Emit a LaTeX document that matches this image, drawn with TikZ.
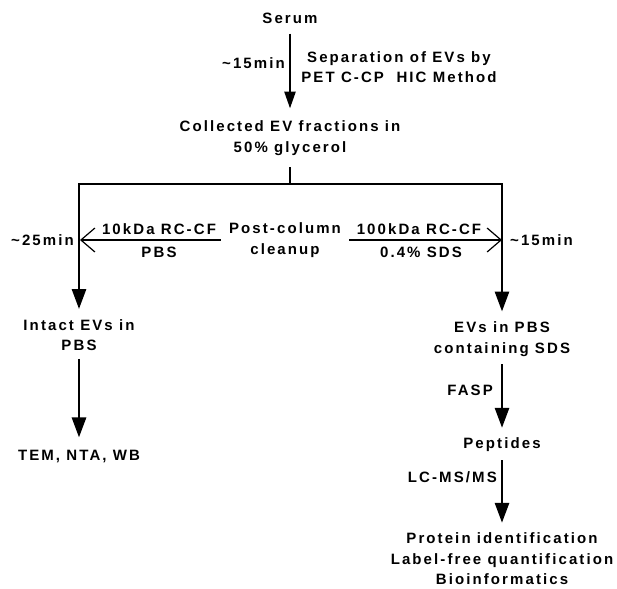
\documentclass[tikz,border=0pt]{standalone}
\usepackage{fontspec}
\newfontfamily\lab{Liberation Sans}[LetterSpace=14]
\usetikzlibrary{arrows.meta}
\tikzset{
  lbl/.style={font=\lab\bfseries\fontsize{15}{20.5}\selectfont, align=center, inner sep=0pt},
  thk/.style={line width=2.8pt},
  varrow/.style={line width=2.8pt, -{Triangle[length=20pt,width=14pt]}},
  sarrow/.style={line width=2.6pt, -{Triangle[length=17pt,width=11pt]}},
  harrow/.style={line width=1.2pt, -{Straight Barb[length=14pt,width=24pt,line width=1.2pt]}}
}
\begin{document}
\begin{tikzpicture}[x=1pt,y=-1pt]
\path[use as bounding box] (0,0) rectangle (617,588);
% nodes
\node[lbl] (serum) at (290,18) {Serum};
\node[lbl, anchor=east] (m15a) at (285,63) {\textasciitilde15min};
\node[lbl] (sep) at (399,67) {Separation of EVs by\\PET C-CP\ \ HIC Method};
\node[lbl] (coll) at (290,138) {Collected EV fractions in\\50\% glycerol};
\coordinate (br) at (290,184);
\coordinate (lv) at (80,240);
\coordinate (rv) at (502,240);
\node[lbl] (post) at (285,240) {Post-column\\cleanup};
\node[lbl] (l10) at (159,229) {10kDa RC-CF};
\node[lbl] (lpbs) at (159,252) {PBS};
\node[lbl] (r100) at (419,229) {100kDa RC-CF};
\node[lbl] (rsds) at (421,252) {0.4\% SDS};
\node[lbl, anchor=east] (m25) at (74,240) {\textasciitilde25min};
\node[lbl, anchor=west] (m15b) at (510,240) {\textasciitilde15min};
\node[lbl] (intact) at (79,335) {Intact EVs in\\PBS};
\node[lbl] (tem) at (79,456) {TEM, NTA, WB};
\node[lbl] (evs) at (502,339) {EVs in PBS\\containing SDS};
\node[lbl, anchor=east] (fasp) at (493,390) {FASP};
\node[lbl] (pep) at (502,445) {Peptides};
\node[lbl, anchor=east] (lcms) at (497,477) {LC-MS/MS};
\node[lbl] (prot) at (502,559) {Protein identification\\Label-free quantification\\Bioinformatics};
% connectors
\draw[sarrow, shorten <=10pt, shorten >=12pt] (serum) -- (coll);
\draw[thk, shorten <=12pt] (coll) -- (br);
\draw[varrow, shorten >=10pt] (br) -| (intact);
\draw[varrow, shorten >=10pt] (br) -| (evs);
\draw[harrow, shorten <=8pt] (post) -- (lv);
\draw[harrow, shorten <=8pt] (post) -- (rv);
\draw[varrow, shorten <=8pt, shorten >=12pt] (intact) -- (tem);
\draw[varrow, shorten <=8pt, shorten >=10pt] (evs) -- (pep);
\draw[varrow, shorten <=8pt, shorten >=10pt] (pep) -- (prot);
\end{tikzpicture}
\end{document}
